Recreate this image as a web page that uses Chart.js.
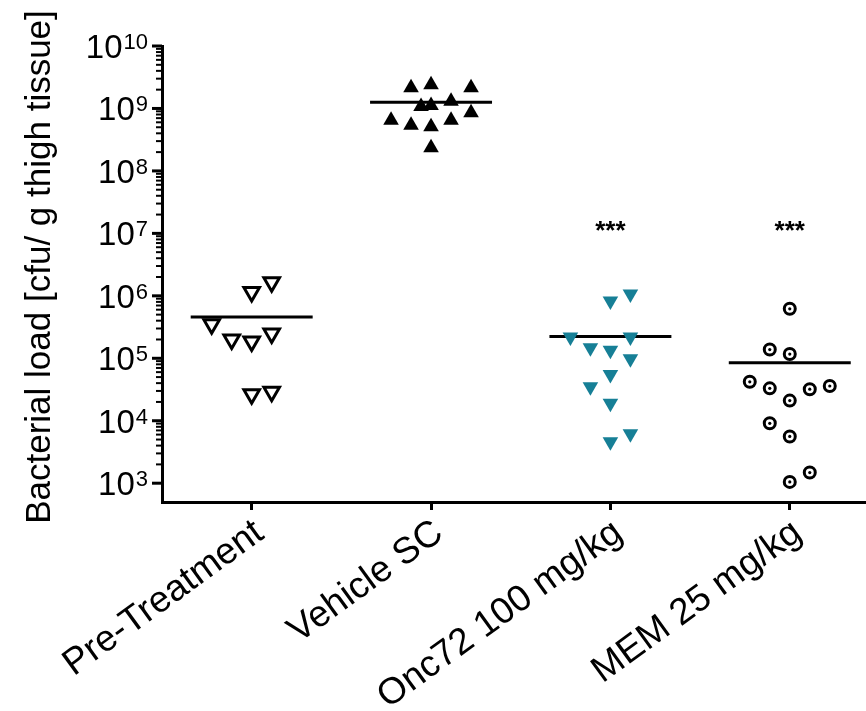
<!DOCTYPE html>
<html>
<head>
<meta charset="utf-8">
<script src="https://cdn.jsdelivr.net/npm/chart.js@4.4.0/dist/chart.umd.min.js"></script>
<style>
  html, body { margin: 0; padding: 0; background: #fff; }
</style>
</head>
<body>
<canvas id="chart" width="866" height="711"></canvas>
<script>
const groups = ['Pre-Treatment', 'Vehicle SC', 'Onc72 100 mg/kg', 'MEM 25 mg/kg'];

// bacterial load per animal [cfu / g thigh tissue]
const preTreatment = [1.15e6, 1.65e6, 3.5e5, 2.0e5, 1.85e5, 2.5e5, 2.65e4, 2.9e4];
const vehicleSC = [2.15e9, 2.4e9, 2.15e9, 1.07e9, 1.12e9, 1.3e9, 8.5e8, 6.5e8, 5.4e8, 5.1e8, 6.5e8, 2.35e8];
const onc72 = [8.3e5, 1.07e6, 2.2e5, 2.2e5, 1.48e5, 1.35e5, 9.8e4, 5.5e4, 3.5e4, 1.9e4, 6.2e3, 4.6e3];
const mem25 = [6.2e5, 1.38e5, 1.17e5, 4.2e4, 3.3e4, 2.1e4, 3.2e4, 3.6e4, 9.1e3, 5.6e3, 1.05e3, 1.48e3];

// side-by-side slot of each animal inside its column
const preTreatmentSlot = [0, 1, -2, -1, 0, 1, 0, 1];
const vehicleSCSlot = [-1, 0, 2, -0.5, 0, 1, 2, -2, -1, 0, 1, 0];
const onc72Slot = [0, 1, -2, 1, -1, 0, 1, 0, -1, 0, 1, 0];
const mem25Slot = [0, -1, 0, -2, -1, 0, 1, 2, -1, 0, 0, 1];

// group means (horizontal bars)
const groupMeans = [4.6e5, 1.26e9, 2.24e5, 8.5e4];

// significance vs. vehicle
const sigMarks = ['', '', '***', '***'];
const sigLevel = 1.23e7;

const yDecades = [3, 4, 5, 6, 7, 8, 9, 10];

const FONT = "'Liberation Sans', Arial, sans-serif";
const TEAL = '#167f96';
const jitterStep = 0.1115;
const meanHalfWidth = 0.34;

const toPoints = (values, slots, col) => values.map((v, k) => ({ x: col + slots[k] * jitterStep, y: v }));

const meanLines = groupMeans.map((m, i) => ({
    type: 'line',
    data: [{ x: i - meanHalfWidth, y: m }, { x: i + meanHalfWidth, y: m }],
    borderColor: '#000',
    borderWidth: 3,
    pointRadius: 0,
    showLine: true,
    order: 2
}));

const axisDecor = {
    id: 'axisDecor',
    afterDraw(chart) {
        const { ctx, chartArea, scales: { x, y } } = chart;
        ctx.save();
        ctx.fillStyle = '#000';
        ctx.strokeStyle = '#000';

        // log ticks + 10^n labels
        const labelRight = 148;
        y.ticks.forEach(t => {
            const py = y.getPixelForValue(t.value);
            ctx.lineWidth = t.major ? 3 : 2;
            ctx.beginPath();
            ctx.moveTo(chartArea.left, py);
            ctx.lineTo(chartArea.left - (t.major ? 10 : 6), py);
            ctx.stroke();
            if (t.major) {
                const exp = String(Math.round(Math.log10(t.value)));
                ctx.font = '22px ' + FONT;
                const we = ctx.measureText(exp).width;
                ctx.textAlign = 'left';
                ctx.textBaseline = 'alphabetic';
                ctx.fillText(exp, labelRight - we, py + 3);
                ctx.font = '33px ' + FONT;
                ctx.textAlign = 'right';
                ctx.fillText('10', labelRight - we - 1, py + 12);
            }
        });

        // axis title
        ctx.save();
        ctx.translate(40, 267);
        ctx.rotate(-Math.PI / 2);
        ctx.font = '35px ' + FONT;
        ctx.textAlign = 'center';
        ctx.textBaseline = 'middle';
        ctx.fillText('Bacterial load [cfu/ g thigh tissue]', 0, 0);
        ctx.restore();

        // significance stars
        ctx.font = 'bold 26px ' + FONT;
        ctx.textAlign = 'center';
        ctx.textBaseline = 'alphabetic';
        sigMarks.forEach((s, i) => {
            if (s) ctx.fillText(s, x.getPixelForValue(i), y.getPixelForValue(sigLevel) + 11);
        });
        ctx.restore();
    }
};

Chart.defaults.font.family = FONT;
Chart.defaults.color = '#000';

new Chart(document.getElementById('chart'), {
    type: 'scatter',
    data: {
        datasets: [
            {
                data: toPoints(preTreatment, preTreatmentSlot, 0),
                pointStyle: 'triangle', rotation: 180, pointRadius: 9,
                backgroundColor: '#fff', borderColor: '#000', borderWidth: 3, order: 1
            },
            {
                data: toPoints(vehicleSC, vehicleSCSlot, 1),
                pointStyle: 'triangle', rotation: 0, pointRadius: 9,
                backgroundColor: '#000', borderWidth: 0, order: 1
            },
            {
                data: toPoints(onc72, onc72Slot, 2),
                pointStyle: 'triangle', rotation: 180, pointRadius: 9,
                backgroundColor: TEAL, borderWidth: 0, order: 1
            },
            {
                data: toPoints(mem25, mem25Slot, 3),
                pointStyle: 'circle', pointRadius: 5.5,
                backgroundColor: '#fff', borderColor: '#000', borderWidth: 3, order: 1
            },
            {
                data: toPoints(mem25, mem25Slot, 3),
                pointStyle: 'circle', pointRadius: 1.6,
                backgroundColor: '#000', borderWidth: 0, order: 0
            },
            ...meanLines
        ]
    },
    options: {
        responsive: false,
        animation: false,
        clip: false,
        layout: { autoPadding: false, padding: { top: 46, right: 0, left: 0, bottom: 0 } },
        plugins: { legend: { display: false }, tooltip: { enabled: false } },
        scales: {
            x: {
                type: 'linear',
                min: -0.5,
                max: 3.425,
                afterBuildTicks: scale => { scale.ticks = groups.map((g, i) => ({ value: i })); },
                afterFit: scale => {
                    scale.height = 209;
                    scale.paddingLeft = 0;
                    scale.paddingRight = 0;
                },
                ticks: {
                    callback: value => groups[value],
                    font: { size: 37 },
                    minRotation: 36,
                    maxRotation: 36,
                    labelOffset: 8,
                    padding: 1
                },
                grid: { display: true, drawOnChartArea: false, drawTicks: true, tickLength: 8, lineWidth: 3, color: '#000' },
                border: { display: true, width: 3, color: '#000' }
            },
            y: {
                type: 'logarithmic',
                min: 500,
                max: 1e10,
                afterBuildTicks: scale => {
                    const list = [];
                    yDecades.forEach(d => {
                        const steps = d === 10 ? 1 : 9;
                        for (let m = 1; m <= steps; m++) list.push({ value: m * Math.pow(10, d), major: m === 1 });
                    });
                    scale.ticks = list;
                },
                afterFit: scale => { scale.width = 162; },
                ticks: { display: false },
                grid: { display: false },
                border: { display: true, width: 3, color: '#000' }
            }
        }
    },
    plugins: [axisDecor]
});
</script>
</body>
</html>
